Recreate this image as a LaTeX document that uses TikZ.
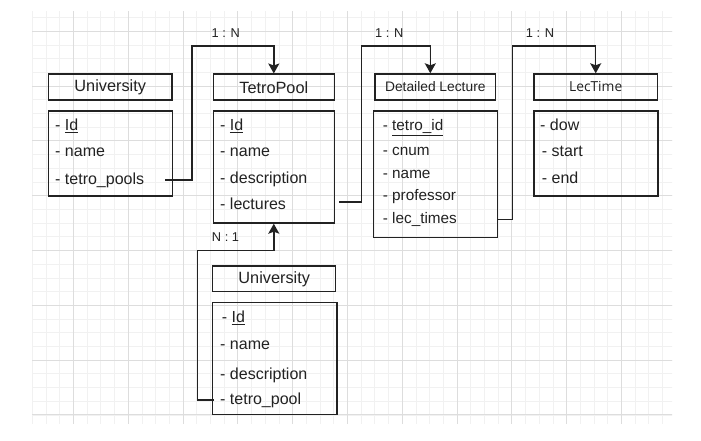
\documentclass[tikz,border=0pt]{standalone}
\usepackage{fontspec}
\setmainfont{Liberation Sans}
\newfontfamily\segoefont{Open Sans}
\usepackage{tikz}
\usetikzlibrary{arrows.meta, positioning, calc}
\definecolor{ink}{HTML}{222222}
\definecolor{gridminor}{HTML}{F1F1F1}
\definecolor{gridmajor}{HTML}{DDDDDD}

\begin{document}
\begin{tikzpicture}[
  x=1pt, y=-1pt,
  >={Stealth[length=10pt,width=11pt,inset=2pt]},
  hdr/.style={draw=ink, line width=1.4pt, minimum height=26pt, inner sep=0pt, text=ink, font=\fontsize{16.3}{19}\selectfont},
  tbl/.style={draw=ink, line width=1.4pt, inner sep=0pt},
  fld/.style={anchor=west, inner sep=0pt, text height=11pt, text depth=3pt, text=ink, font=\fontsize{16}{19}\selectfont},
  rel/.style={draw=ink, line width=1.4pt, ->},
  card/.style={text=ink, font=\fontsize{12.8}{15}\selectfont}
  ]
  \useasboundingbox (0,0) rectangle (701,441);
  \fill[white] (0,0) rectangle (701,441);
  % grid
  \begin{scope}
    \clip (32,12) rectangle (672,423);
    \draw[gridminor, line width=0.6pt, shift={(18.5,31.2)}] (-20,-30) grid[step=13.7pt] (680,420);
    \draw[gridmajor, line width=0.8pt, shift={(18.5,31.2)}] (-20,-30) grid[step=54.8pt] (680,420);
  \end{scope}

  % University
  \node[hdr, minimum width=123.7pt] (uniHead) at (110.2,87.2) {University};
  \node[tbl, minimum width=124.4pt, minimum height=85pt] (uniBody) at (110.5,153.5) {};
  \node[fld] (uniId)    at (55,126.7) {- \underline{Id}};
  \node[fld] (uniName)  at (55,153.0) {- name};
  \node[fld] (uniPools) at (55,180.0) {- tetro\_pools};

  % TetroPool
  \node[hdr, minimum width=121pt] (tpHead) at (273.8,87.2) {TetroPool};
  \node[tbl, minimum width=121pt, minimum height=112pt] (tpBody) at (273.8,167) {};
  \node[fld] (tpId)   at (220,126.7) {- \underline{Id}};
  \node[fld] (tpName) at (220,153.0) {- name};
  \node[fld] (tpDesc) at (220,179.5) {- description};
  \node[fld] (tpLec)  at (220,205.0) {- lectures};

  % Detailed Lecture
  \node[hdr, minimum width=120.7pt, font=\fontsize{13.8}{16}\selectfont] (dlHead) at (435.3,87.0) {Detailed Lecture};
  \node[tbl, minimum width=124pt, minimum height=126.3pt] (dlBody) at (435.3,174.2) {};
  \node[fld, font=\fontsize{15.3}{18}\selectfont] (dlId)    at (382.7,126.7) {- \underline{tetro\_id}};
  \node[fld, font=\fontsize{15.3}{18}\selectfont] (dlNum)   at (382.7,151.0) {- cnum};
  \node[fld, font=\fontsize{15.3}{18}\selectfont] (dlName)  at (382.7,174.0) {- name};
  \node[fld, font=\fontsize{15.3}{18}\selectfont] (dlProf)  at (382.7,196.0) {- professor};
  \node[fld, font=\fontsize{15.3}{18}\selectfont] (dlTimes) at (382.7,219.3) {- lec\_times};

  % LecTime
  \node[hdr, minimum width=123.3pt, font=\segoefont\fontsize{13.8}{16}\selectfont] (ltHead) at (595.7,87.0) {LecTime};
  \node[tbl, minimum width=124pt, minimum height=85pt] (ltBody) at (596,153.5) {};
  \node[fld] (ltDow)   at (540,126.7) {- dow};
  \node[fld] (ltStart) at (541.7,153.0) {- start};
  \node[fld] (ltEnd)   at (541.7,179.3) {- end};

  % University (lower)
  \node[hdr, minimum width=123pt, minimum height=25.7pt] (uniTwoHead) at (274.2,278.8) {University};
  \node[tbl, minimum width=124.3pt, minimum height=111.6pt] (uniTwoBody) at (274.8,358.5) {};
  \node[fld] (uniTwoId)   at (221.7,318.3) {- \underline{Id}};
  \node[fld] (uniTwoName) at (220,345.7) {- name};
  \node[fld] (uniTwoDesc) at (220,375.7) {- description};
  \node[fld] (uniTwoPool) at (220,400.0) {- tetro\_pool};

  % relations
  \coordinate (uniPoolsOut) at (165,180);
  \coordinate (bendA) at (192,46);
  \draw[rel] (uniPoolsOut) -| (bendA) -| (tpHead.north);
  \node[card] (cardA) at (225.7,32.7) {1 : N};

  \coordinate (tpLecOut) at (339,202);
  \coordinate (bendB) at (361.7,46);
  \draw[rel] (tpLecOut) -| (bendB) -| ([xshift=-5pt]dlHead.north);
  \node[card] (cardB) at (389.3,32.7) {1 : N};

  \coordinate (dlTimesOut) at (dlBody.east |- dlTimes);
  \coordinate (bendC) at (512.3,46);
  \draw[rel] (dlTimesOut) -| (bendC) -| (ltHead.north);
  \node[card] (cardC) at (540,32.7) {1 : N};

  \coordinate (uniTwoPoolOut) at (214,400);
  \coordinate (bendD) at (197.3,250.7);
  \draw[rel] (uniTwoPoolOut) -| (bendD) -| (tpBody.south);
  \node[card] (cardD) at (225.5,236.7) {N : 1};
\end{tikzpicture}
\end{document}
